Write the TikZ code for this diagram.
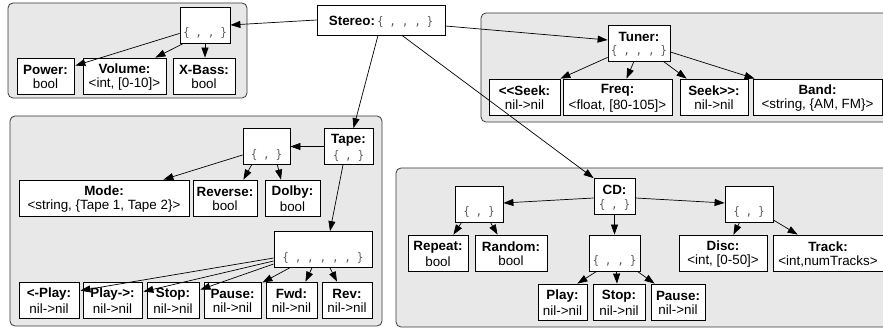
\documentclass[tikz,border=0pt]{standalone}
\usepackage{fontspec}
\usetikzlibrary{arrows.meta,calc}
\newfontfamily\labfont{Liberation Sans}
\newfontfamily\bracefont{DejaVu Sans Mono}
\definecolor{panelfill}{RGB}{232,232,232}
\definecolor{panelline}{RGB}{55,55,55}
\definecolor{bracegray}{RGB}{85,85,85}
% strut that fixes the baseline of every label line
\newcommand\lstrut{\rule[-1.5pt]{0pt}{13.5pt}}
\newcommand\hdr[1]{{\bfseries #1}}
\newcommand\bracetxt[1]{{\bracefont\fontsize{10.3}{13.5}\selectfont\color{bracegray}\scalebox{1}[1.15]{#1}}}
\newcommand\field[2]{\lstrut\hdr{#1}\\\lstrut #2}
\newcommand\group[1]{\lstrut\\\lstrut\bracetxt{#1}}
\tikzset{
  panel/.style={draw=panelline, fill=panelfill, rounded corners=5pt, line width=0.8pt},
  box/.style={draw=black, fill=white, line width=0.8pt, inner sep=0pt, align=center,
    minimum height=36pt, font=\labfont\fontsize{13.4}{13.8}\selectfont},
  conn/.style={-{Triangle[length=10pt,width=7pt]}, line width=0.7pt},
}
\begin{document}
\begin{tikzpicture}[x=1pt,y=-1pt]
\useasboundingbox (0,0) rectangle (883,328);
\clip (0,0) rectangle (883,328);

% grouping panels
\draw[panel] (8,3) rectangle (247,98);
\draw[panel] (481,13) rectangle (910,122);
\draw[panel] (10,116) rectangle (382,326);
\draw[panel] (396,168) rectangle (910,327);

% root
\node[box, minimum width=128pt, minimum height=30pt] (stereo) at (381,20)
  {\lstrut\hdr{Stereo:}\,\bracetxt{\{ , , , \}}};

% power / volume / bass group
\node[box, minimum width=50pt] (abr) at (205,25) {\group{\{ , , \}}};
\node[box, minimum width=57pt] (power) at (45.5,76) {\field{Power:}{bool}};
\node[box, minimum width=83pt] (volume) at (124.5,76) {\field{Volume:}{<int, [0-10]>}};
\node[box, minimum width=62pt] (xbass) at (204,76) {\field{X-Bass:}{bool}};

% tuner
\node[box, minimum width=62pt] (tuner) at (639,43) {\field{Tuner:}{\bracetxt{\{ , , , \}}}};
\node[box, minimum width=71pt] (lseek) at (524.5,97) {\field{<<Seek:}{nil->nil}};
\node[box, minimum width=109pt] (freq) at (617.5,97) {\field{Freq:}{<float, [80-105]>}};
\node[box, minimum width=68pt] (rseek) at (714,97) {\field{Seek>>:}{nil->nil}};
\node[box, minimum width=129pt] (band) at (817.5,97) {\field{Band:}{<string, \{AM, FM\}>}};

% tape
\node[box, minimum width=49pt] (tape) at (348.5,146.5) {\field{Tape:}{\bracetxt{\{ , \}}}};
\node[box, minimum width=47pt] (tbr) at (266.5,146.5) {\group{\{ , \}}};
\node[box, minimum width=170pt] (mode) at (104,198) {\field{Mode:}{<string, \{Tape 1, Tape 2\}>}};
\node[box, minimum width=64pt] (reverse) at (225,198) {\field{Reverse:}{bool}};
\node[box, minimum width=55pt] (dolby) at (292.5,198) {\field{Dolby:}{bool}};
\node[box, minimum width=98pt] (tbr6) at (323,249.5) {\group{\{ , , , , , \}}};
\node[box, minimum width=60pt] (lplay) at (49,300) {\field{<-Play:}{nil->nil}};
\node[box, minimum width=59pt] (rplay) at (112.5,300) {\field{Play->:}{nil->nil}};
\node[box, minimum width=52pt] (stop) at (173,300) {\field{Stop:}{nil->nil}};
\node[box, minimum width=57pt] (pause) at (232.5,300) {\field{Pause:}{nil->nil}};
\node[box, minimum width=51pt] (fwd) at (291.5,300) {\field{Fwd:}{nil->nil}};
\node[box, minimum width=50pt] (rev) at (347,300) {\field{Rev:}{nil->nil}};

% cd
\node[box, minimum width=41pt] (cd) at (614.5,196.5) {\field{CD:}{\bracetxt{\{ , \}}}};
\node[box, minimum width=48pt] (cbrl) at (479,204) {\group{\{ , \}}};
\node[box, minimum width=48pt] (cbrr) at (749,204) {\group{\{ , \}}};
\node[box, minimum width=51pt] (cbrm) at (614.5,253) {\group{\{ , , \}}};
\node[box, minimum width=60pt] (repeat) at (438,253) {\field{Repeat:}{bool}};
\node[box, minimum width=72pt] (random) at (511,253) {\field{Random:}{bool}};
\node[box, minimum width=88pt] (disc) at (723,253) {\field{Disc:}{<int, [0-50]>}};
\node[box, minimum width=110pt] (track) at (828,253) {\field{Track:}{<int,numTracks>}};
\node[box, minimum width=49pt] (cplay) at (562.5,302) {\field{Play:}{nil->nil}};
\node[box, minimum width=52pt] (cstop) at (619,302) {\field{Stop:}{nil->nil}};
\node[box, minimum width=54pt] (cpause) at (678,302) {\field{Pause:}{nil->nil}};

% connectors from the root
\draw[conn] (stereo.west) -- (abr.east);
\draw[conn] ($(stereo.east)+(0,6)$) -- ($(tuner.west)+(0,-3)$);
\draw[conn] ($(stereo.south)+(-3,0)$) -- ($(tape.north)+(5,0)$);
\draw[conn] ($(stereo.south)+(21,0)$) -- (cd.north west);

% power / volume / bass
\draw[conn] ($(abr.south west)+(0,-10)$) -- ($(power.north east)+(1,8)$);
\draw[conn] ($(abr.south west)+(4,0)$) -- ($(volume.north east)+(-11,0)$);
\draw[conn] (abr.south) -- (abr.south |- xbass.north);

% tuner
\draw[conn] ($(tuner.south west)+(0,-4)$) -- (lseek.north east);
\draw[conn] ($(tuner.south)+(-5,0)$) -- ($(freq.north)+(9,0)$);
\draw[conn] ($(tuner.south east)+(-7,0)$) -- ($(rseek.north west)+(7,0)$);
\draw[conn] ($(tuner.east)+(0,9)$) -- ($(band.north west)+(2,0)$);

% tape
\draw[conn] (tape.west) -- (tbr.east);
\draw[conn] ($(tbr.west)+(0,8.5)$) -- ($(mode.north east)+(-26,0)$);
\draw[conn] ($(tbr.south west)+(9,0)$) -- ($(reverse.north east)+(-14,0)$);
\draw[conn] ($(tbr.south east)+(-13,0)$) -- ($(dolby.north)+(-11.5,0)$);
\draw[conn] ($(tape.south)+(-5.5,0)$) -- ($(tbr6.north)+(7,0)$);
\draw[conn] ($(tbr6.west)+(0,8.5)$) -- ($(lplay.north east)+(1,9)$);
\draw[conn] ($(tbr6.west)+(0,11.5)$) -- ($(rplay.north east)+(1,10)$);
\draw[conn] ($(tbr6.west)+(0,14.5)$) -- ($(stop.north east)+(1,8)$);
\draw[conn] ($(tbr6.south west)+(16,0)$) -- ($(pause.north east)+(1,1)$);
\draw[conn] ($(tbr6.south)+(-11,0)$) -- ($(fwd.north east)+(-12,0)$);
\draw[conn] ($(tbr6.south)+(7,0)$) -- ($(rev.north)+(-10,0)$);

% cd
\draw[conn] ($(cd.west)+(0,1.5)$) -- ($(cbrl.east)+(0,-1)$);
\draw[conn] ($(cd.east)+(0,1.5)$) -- ($(cbrr.west)+(0,-1)$);
\draw[conn] (cd.south) -- (cd.south |- cbrm.north);
\draw[conn] ($(cbrl.south west)+(7,0)$) -- ($(repeat.north east)+(-15,0)$);
\draw[conn] ($(cbrl.south east)+(-13,0)$) -- ($(random.north west)+(23,0)$);
\draw[conn] ($(cbrm.south west)+(8,0)$) -- ($(cplay.north east)+(-10,0)$);
\draw[conn] ($(cbrm.south)+(2,0)$) -- ($(cstop.north)+(-2,0)$);
\draw[conn] ($(cbrm.south east)+(-3,0)$) -- ($(cpause.north west)+(4,0)$);
\draw[conn] ($(cbrr.south west)+(15,0)$) -- ($(disc.north east)+(-34,0)$);
\draw[conn] ($(cbrr.east)+(0,16)$) -- ($(track.north west)+(25,0)$);
\end{tikzpicture}
\end{document}
